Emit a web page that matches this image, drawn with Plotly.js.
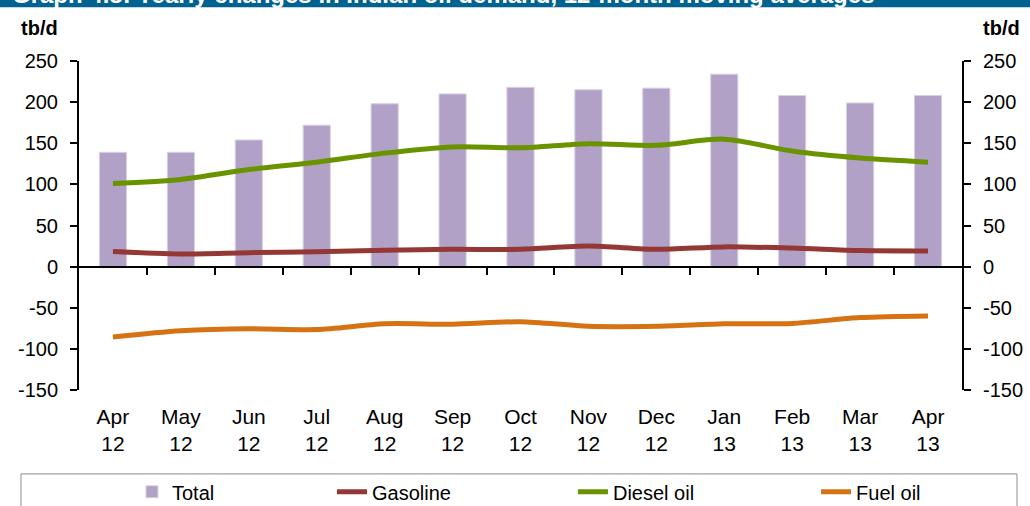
<!DOCTYPE html>
<html>
<head>
<meta charset="utf-8">
<script src="https://cdn.plot.ly/plotly-3.0.1.min.js"></script>
<style>html,body{margin:0;padding:0;background:#fff;}#chart{width:1030px;height:506px;}</style>
</head>
<body>
<div id="chart"></div>
<script>
const categories = ['Apr 12','May 12','Jun 12','Jul 12','Aug 12','Sep 12','Oct 12','Nov 12','Dec 12','Jan 13','Feb 13','Mar 13','Apr 13'];
const total    = [139, 139, 154, 172, 198, 210, 218, 215, 217, 234, 208, 199, 208];
const gasoline = [18.5, 15.5, 17, 18, 20, 21, 21, 25, 21, 24, 22.5, 19.5, 19];
const diesel   = [101, 106, 118, 127, 138, 145.5, 144.5, 149.5, 147.5, 155, 140.5, 132, 127];
const fuelOil  = [-85.5, -78, -75.5, -76.5, -69.5, -70, -67, -72.5, -72.5, -69.5, -69, -62, -60];
const yTicks   = [-150, -100, -50, 0, 50, 100, 150, 200, 250];
const yTickText = yTicks.map(v => String(v));

const FONT = 'Liberation Sans, Arial, sans-serif';
const x = categories.map(c => c.replace(' ', '<br>'));

const traces = [
  {type:'bar', name:'Total', x:x, y:total, width:0.4,
   marker:{color:'#B2A1C7', line:{color:'#D9D0E6', width:1}}, legend:'legend'},
  {type:'scatter', mode:'lines', name:'Gasoline', x:x, y:gasoline,
   line:{color:'#953735', width:5, shape:'spline', smoothing:0.8}, legend:'legend2'},
  {type:'scatter', mode:'lines', name:'Diesel oil', x:x, y:diesel,
   line:{color:'#6A9300', width:5, shape:'spline', smoothing:0.8}, legend:'legend3'},
  {type:'scatter', mode:'lines', name:'Fuel oil', x:x, y:fuelOil,
   line:{color:'#D67214', width:5, shape:'spline', smoothing:0.8}, legend:'legend4'},
  {type:'scatter', mode:'lines', x:[], y:[], yaxis:'y2', showlegend:false, hoverinfo:'skip'},
  {type:'scatter', mode:'lines', x:[], y:[], xaxis:'x2', showlegend:false, hoverinfo:'skip'}
];

const yRange = [yTicks[0], yTicks[yTicks.length-1]];
const zeroPos = (0 - yRange[0]) / (yRange[1] - yRange[0]);

const axisY = {
  range: yRange, tickvals: yTicks, ticktext: yTickText, ticks:'outside', ticklen:7, tickwidth:2, tickcolor:'#000',
  showline:true, linecolor:'#000', linewidth:2, showgrid:false, zeroline:false,
  tickfont:{family:FONT, size:20, color:'#000'}, ticklabelstandoff:8, fixedrange:true, automargin:false
};

const legendBase = {orientation:'h', yanchor:'top', y:-0.250, xanchor:'left',
  bgcolor:'rgba(0,0,0,0)', borderwidth:0, font:{family:FONT, size:20, color:'#000'}};

const layout = {
  width:1030, height:506,
  margin:{l:79, r:68, t:61, b:116, pad:0, autoexpand:false},
  paper_bgcolor:'#fff', plot_bgcolor:'#fff',
  font:{family:FONT, size:20, color:'#000'},
  showlegend:true,
  bargap:0.6,
  xaxis:{type:'category', range:[-0.5, categories.length-0.5], showline:false, ticks:'',
    showgrid:false, zeroline:false, tickfont:{family:FONT, size:21, color:'#000'},
    ticklabelstandoff:12, fixedrange:true, automargin:false},
  xaxis2:{overlaying:'x', anchor:'free', position:zeroPos, range:[-0.5, categories.length-0.5],
    tickvals:categories.slice(1).map((_, i) => i + 0.5), showticklabels:false,
    ticks:'outside', ticklen:7, tickwidth:2, tickcolor:'#000',
    showline:true, linecolor:'#000', linewidth:2, showgrid:false, zeroline:false, fixedrange:true},
  yaxis: Object.assign({}, axisY),
  yaxis2: Object.assign({}, axisY, {overlaying:'y', side:'right'}),
  legend:  Object.assign({}, legendBase, {x:0.060}),
  legend2: Object.assign({}, legendBase, {x:0.2865}),
  legend3: Object.assign({}, legendBase, {x:0.5594}),
  legend4: Object.assign({}, legendBase, {x:0.8347}),
  shapes:[
    {type:'rect', xref:'paper', yref:'paper', x0:-0.1, x1:1.1, y0:1.163, y1:1.4,
     fillcolor:'#00628E', line:{width:0}},
    {type:'rect', xref:'paper', yref:'paper', x0:-0.0657, x1:1.0623, y0:-0.6, y1:-0.255,
     fillcolor:'rgba(0,0,0,0)', line:{color:'#8C8C8C', width:1}}
  ],
  annotations:[
    {text:'Graph 4.8: Yearly changes in Indian oil demand, 12-month moving averages',
     xref:'paper', yref:'paper', x:-0.078, y:1.154, xanchor:'left', yanchor:'bottom',
     showarrow:false, font:{family:FONT, size:24, color:'#fff', weight:'bold'}},
    {text:'<b>tb/d</b>', xref:'paper', yref:'paper', x:(39-79)/883, y:1+(60.7-28)/329.3,
     xanchor:'center', yanchor:'middle', showarrow:false, font:{family:FONT, size:20, color:'#000'}},
    {text:'<b>tb/d</b>', xref:'paper', yref:'paper', x:(1001-79)/883, y:1+(60.7-28)/329.3,
     xanchor:'center', yanchor:'middle', showarrow:false, font:{family:FONT, size:20, color:'#000'}}
  ]
};

Plotly.newPlot('chart', traces, layout, {displayModeBar:false, staticPlot:true});
</script>
</body>
</html>
